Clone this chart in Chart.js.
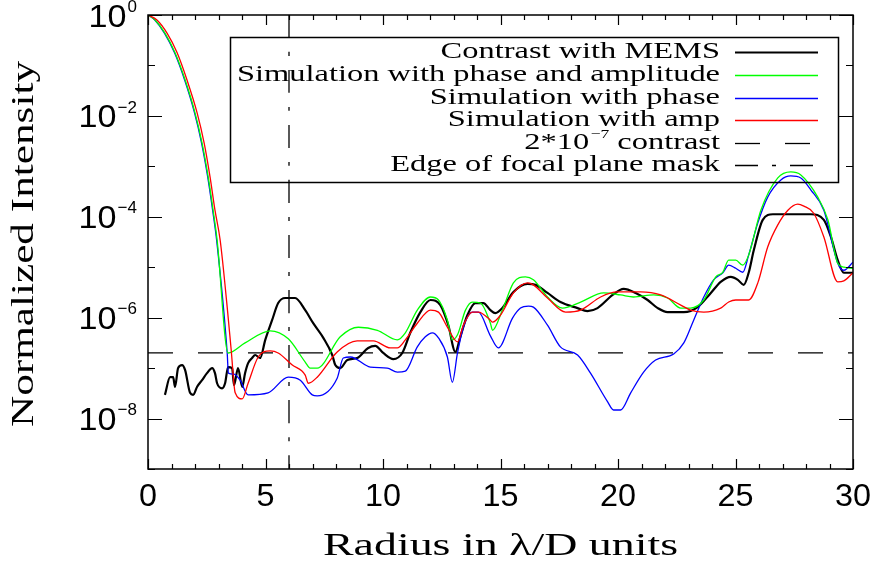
<!DOCTYPE html>
<html>
<head>
<meta charset="utf-8">
<script src="https://cdn.jsdelivr.net/npm/chart.js@4.4.1/dist/chart.umd.min.js"></script>
<style>
  html, body { margin: 0; padding: 0; background: #fff; }
</style>
</head>
<body>
<canvas id="contrast-chart" width="872" height="563"></canvas>
<script>
// radius (lambda/D) and log10 of normalized intensity
var memsR = [0.72,0.94,1.07,1.15,1.28,1.45,1.58,1.79,1.92,2.09,2.30,2.51,2.73,2.85,2.94,3.15,3.28,3.41,3.58,3.66,
  3.83,4.01,4.13,4.26,4.43,4.56,4.77,4.99,5.28,5.54,5.84,6.26,6.69,7.03,7.46,7.84,7.97,8.18,8.48,8.90,
  9.37,9.67,10.01,10.44,10.82,11.16,11.59,12.02,12.44,12.78,13.08,13.29,13.59,13.93,14.27,14.57,14.78,15.08,15.55,16.15,
  16.49,17.00,17.55,18.28,18.70,19.13,19.77,20.24,20.75,21.26,21.69,22.11,22.80,23.39,23.95,24.37,24.80,25.10,25.35,25.56,
  25.78,26.16,26.59,27.35,28.21,28.76,29.06,29.35,29.61,30.0];
var memsLog = [-7.53,-7.18,-7.18,-7.37,-7.00,-6.94,-7.04,-7.49,-7.53,-7.37,-7.24,-7.10,-7.00,-7.10,-7.30,-7.40,-7.30,-6.98,-7.00,-7.34,
  -7.00,-7.37,-7.10,-6.90,-6.80,-6.74,-6.80,-6.44,-6.05,-5.71,-5.61,-5.61,-5.85,-6.11,-6.40,-6.74,-6.94,-7.00,-6.84,-6.80,
  -6.60,-6.56,-6.70,-6.82,-6.70,-6.30,-5.89,-5.65,-5.75,-6.15,-6.68,-6.38,-5.95,-5.71,-5.71,-5.85,-5.91,-5.81,-5.49,-5.33,
  -5.35,-5.51,-5.69,-5.81,-5.87,-5.81,-5.55,-5.43,-5.51,-5.65,-5.81,-5.89,-5.89,-5.79,-5.51,-5.29,-5.19,-5.25,-5.35,-5.11,
  -4.66,-4.06,-3.95,-3.95,-3.95,-4.06,-4.40,-4.86,-5.11,-5.11];

var bothR = [0,0.30,0.72,1.15,1.58,2.00,2.30,2.56,2.77,2.94,3.41,4.13,5.20,5.97,6.69,6.90,7.20,8.18,8.95,9.76,
  10.61,10.95,11.46,12.02,12.36,12.74,12.95,13.17,13.51,13.80,14.15,14.57,14.66,15.08,15.55,16.06,16.40,17.00,17.64,18.41,
  19.39,20.11,20.66,21.52,22.11,22.67,23.09,23.65,24.16,24.46,24.71,25.01,25.31,25.56,26.08,26.80,27.35,27.78,28.50,28.93,
  29.35,29.61,30.0];
var bothLog = [0,-0.10,-0.36,-0.75,-1.29,-1.94,-2.54,-3.21,-3.87,-4.46,-6.70,-6.50,-6.26,-6.42,-6.88,-7.00,-7.00,-6.38,-6.19,-6.25,
  -6.44,-6.30,-5.85,-5.59,-5.65,-6.05,-6.44,-6.34,-5.85,-5.69,-5.71,-6.11,-6.25,-5.85,-5.31,-5.19,-5.25,-5.59,-5.81,-5.69,
  -5.51,-5.55,-5.59,-5.55,-5.61,-5.81,-5.81,-5.65,-5.19,-5.10,-4.86,-4.86,-4.96,-4.76,-3.87,-3.23,-3.11,-3.17,-3.61,-4.06,
  -4.92,-5.00,-5.02];

var phaseR = [0,0.29,0.70,1.13,1.56,1.98,2.28,2.54,2.75,2.92,3.37,3.42,3.66,3.92,4.26,5.11,5.97,6.48,6.99,7.20,
  8.05,8.31,8.61,9.46,10.18,10.61,10.95,11.46,11.80,12.10,12.36,12.74,12.95,13.17,13.42,13.80,14.06,14.57,14.91,15.51,
  15.85,16.19,16.40,17.00,17.55,18.28,18.83,19.56,19.81,20.11,20.54,21.09,21.60,22.37,22.80,23.22,23.65,24.07,24.46,24.71,
  25.01,25.31,25.56,25.95,26.37,26.93,27.35,27.78,28.21,28.76,29.35,29.61,30.0];
var phaseLog = [0,-0.10,-0.36,-0.75,-1.29,-1.94,-2.54,-3.21,-3.87,-4.46,-6.70,-7.10,-7.12,-7.24,-7.53,-7.49,-7.18,-7.24,-7.53,-7.55,
  -7.20,-6.80,-6.78,-6.98,-7.00,-7.08,-7.06,-6.58,-6.38,-6.30,-6.40,-6.78,-7.28,-6.70,-6.19,-5.89,-5.89,-6.36,-6.60,-6.01,
  -5.81,-5.77,-5.79,-6.15,-6.58,-6.74,-7.10,-7.67,-7.83,-7.83,-7.49,-7.08,-6.84,-6.72,-6.50,-6.05,-5.59,-5.25,-5.11,-4.96,
  -5.02,-5.10,-4.76,-4.12,-3.61,-3.27,-3.19,-3.23,-3.47,-3.87,-4.92,-5.06,-4.90];

var ampR = [0,0.38,0.81,1.24,1.66,2.09,2.39,2.64,2.85,3.07,3.37,3.54,3.71,4.01,4.26,4.69,5.20,5.54,6.14,6.69,
  6.82,7.20,8.05,8.90,9.59,10.31,10.61,10.95,11.46,12.02,12.36,12.74,13.17,13.42,13.80,14.06,14.57,14.66,15.00,15.55,
  16.15,16.40,17.00,17.77,18.41,19.26,19.98,20.96,21.82,22.67,23.09,23.65,24.37,24.71,25.01,25.56,25.95,26.37,26.80,27.23,
  27.65,27.91,28.33,28.76,29.35,29.61,30.0];
var ampLog = [0,-0.10,-0.36,-0.75,-1.29,-1.94,-2.54,-3.21,-3.87,-4.46,-5.79,-6.64,-7.49,-7.61,-7.30,-6.78,-6.66,-6.70,-6.94,-7.14,
  -7.30,-7.18,-6.68,-6.46,-6.46,-6.60,-6.60,-6.44,-6.11,-5.85,-5.89,-6.19,-6.48,-6.15,-5.89,-5.89,-6.05,-6.09,-5.95,-5.51,
  -5.31,-5.35,-5.61,-5.89,-5.85,-5.59,-5.49,-5.49,-5.55,-5.75,-5.85,-5.89,-5.81,-5.69,-5.65,-5.65,-5.31,-4.60,-4.16,-3.87,
  -3.75,-3.79,-3.93,-4.40,-5.29,-5.27,-5.11];

var contrastLevel = 2e-7;
var maskEdge = 6;
var xTickValues = [0, 5, 10, 15, 20, 25, 30];
var yTickExponents = [0, -2, -4, -6, -8];

function points(r, lg) {
  return r.map(function (v, i) { return { x: v, y: Math.pow(10, lg[i]) }; });
}

var datasets = [
  { label: 'Contrast with MEMS', data: points(memsR, memsLog), borderColor: '#000000', borderWidth: 2.2, order: 4 },
  { label: 'Simulation with phase and amplitude', data: points(bothR, bothLog), borderColor: '#00ff00', borderWidth: 1.3, order: 2 },
  { label: 'Simulation with phase', data: points(phaseR, phaseLog), borderColor: '#0000ff', borderWidth: 1.3, order: 3 },
  { label: 'Simulation with amp', data: points(ampR, ampLog), borderColor: '#ff0000', borderWidth: 1.3, order: 1 },
  { label: '2*10^-7 contrast', data: [{ x: 0, y: contrastLevel }, { x: 30, y: contrastLevel }], borderColor: '#000000', borderWidth: 1.3, borderDash: [25, 25], order: 5 },
  { label: 'Edge of focal plane mask', data: [{ x: maskEdge, y: 1 }, { x: maskEdge, y: 1e-9 }], borderColor: '#000000', borderWidth: 1.3, borderDash: [23, 14, 4, 14], order: 5 }
];
datasets.forEach(function (d) {
  d.pointRadius = 0;
  d.fill = false;
  d.cubicInterpolationMode = 'monotone';
});

var sansFont = '"DejaVu Sans ExtraLight", "Liberation Sans", sans-serif';
var serifFont = '"Liberation Serif", serif';

// draw text squeezed or stretched to a given width
function fitText(ctx, s, x, y, font, width, align) {
  ctx.save();
  ctx.font = font;
  var w = ctx.measureText(s).width;
  ctx.translate(x, y);
  ctx.scale(width / w, 1);
  ctx.textAlign = align || 'center';
  ctx.fillText(s, 0, 0);
  ctx.restore();
}

var idlFrame = {
  id: 'idlFrame',
  afterDatasetsDraw: function (chart) {
    var ctx = chart.ctx, a = chart.chartArea, xs = chart.scales.x, ys = chart.scales.y;
    ctx.save();
    ctx.strokeStyle = '#000';
    ctx.fillStyle = '#000';
    ctx.lineWidth = 1.5;
    ctx.strokeRect(a.left, a.top, a.right - a.left, a.bottom - a.top);

    // ticks on all four sides, pointing in
    ctx.lineWidth = 1.2;
    ctx.beginPath();
    for (var v = 0; v <= 30; v++) {
      var px = Math.round(xs.getPixelForValue(v)) + 0.5;
      var len = v % 5 === 0 ? 10 : 5;
      ctx.moveTo(px, a.bottom); ctx.lineTo(px, a.bottom - len);
      ctx.moveTo(px, a.top); ctx.lineTo(px, a.top + len);
    }
    for (var e = 0; e >= -9; e--) {
      var py = Math.round(ys.getPixelForValue(Math.pow(10, e))) + 0.5;
      var l2 = e % 2 === 0 ? 14 : 7;
      ctx.moveTo(a.left, py); ctx.lineTo(a.left + l2, py);
      ctx.moveTo(a.right, py); ctx.lineTo(a.right - l2, py);
    }
    ctx.stroke();

    // x tick labels
    ctx.textBaseline = 'middle';
    xTickValues.forEach(function (v) {
      fitText(ctx, String(v), xs.getPixelForValue(v), 497, '31px ' + sansFont, String(v).length * 18, 'center');
    });

    // y tick labels 10^n
    yTickExponents.forEach(function (ex) {
      var py = ys.getPixelForValue(Math.pow(10, ex));
      var sup = ex === 0 ? '0' : '\u2212' + (-ex);
      ctx.textAlign = 'right';
      ctx.font = '17px ' + sansFont;
      var sw = ctx.measureText(sup).width;
      ctx.fillText(sup, 137, py - 8);
      fitText(ctx, '10', 137 - sw - 1, py + 3, '31px ' + sansFont, 38, 'right');
    });

    // axis titles
    fitText(ctx, 'Radius in \u03bb/D units', (a.left + a.right) / 2, 547, '31px ' + serifFont, 355, 'center');
    ctx.save();
    ctx.translate(25, (a.top + a.bottom) / 2 + 2);
    ctx.rotate(-Math.PI / 2);
    fitText(ctx, 'Normalized Intensity', 0, 0, '31px ' + serifFont, 366, 'center');
    ctx.restore();

    // legend box
    var box = { left: 230, top: 37, right: 838, bottom: 182 };
    ctx.lineWidth = 1.5;
    ctx.strokeRect(box.left + 0.5, box.top + 0.5, box.right - box.left, box.bottom - box.top);
    var font = '24px ' + serifFont;
    ctx.font = font;
    var sx = 483 / ctx.measureText(datasets[1].label).width;
    var rowY = [52, 75, 98, 120, 143, 165];
    var textRight = 720;
    datasets.forEach(function (d, i) {
      var y = rowY[i];
      ctx.save();
      ctx.translate(textRight, y);
      ctx.scale(sx, 1);
      ctx.textAlign = 'right';
      ctx.textBaseline = 'middle';
      if (i === 4) {
        ctx.font = font;
        var tail = ' contrast';
        var tw = ctx.measureText(tail).width;
        ctx.fillText(tail, 0, 0);
        ctx.font = '13px ' + serifFont;
        var ew = ctx.measureText('\u22127').width;
        ctx.fillText('\u22127', -tw, -8);
        ctx.font = font;
        ctx.fillText('2*10', -tw - ew - 1, 0);
      } else {
        ctx.font = font;
        ctx.fillText(d.label, 0, 0);
      }
      ctx.restore();
      ctx.save();
      ctx.strokeStyle = d.borderColor;
      ctx.lineWidth = d.borderWidth;
      ctx.setLineDash(d.borderDash || []);
      ctx.beginPath();
      ctx.moveTo(735, y + 0.5);
      ctx.lineTo(818, y + 0.5);
      ctx.stroke();
      ctx.restore();
    });
    ctx.restore();
  }
};

new Chart(document.getElementById('contrast-chart'), {
  type: 'line',
  data: { datasets: datasets },
  options: {
    responsive: false,
    animation: false,
    devicePixelRatio: 1,
    layout: { padding: { left: 148, right: 19, top: 15, bottom: 94 } },
    scales: {
      x: { type: 'linear', min: 0, max: 30, display: false },
      y: { type: 'logarithmic', min: 1e-9, max: 1, display: false }
    },
    plugins: {
      legend: { display: false },
      tooltip: { enabled: false }
    }
  },
  plugins: [idlFrame]
});
</script>
</body>
</html>
